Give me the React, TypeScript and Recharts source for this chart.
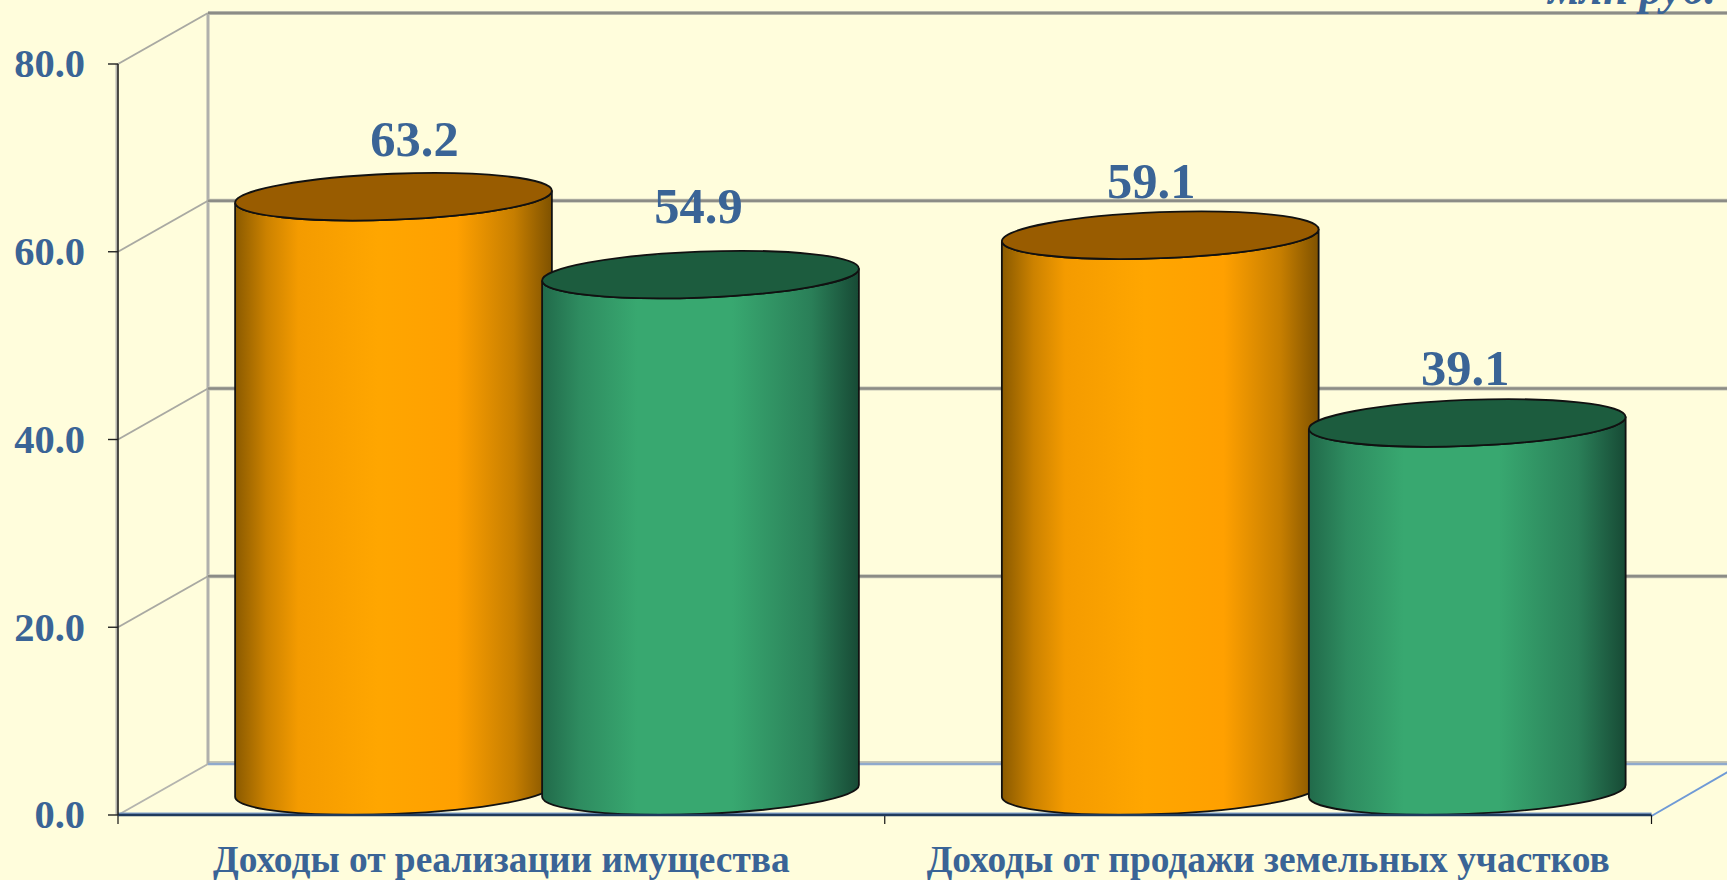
import { BarChart, Bar, XAxis, YAxis, CartesianGrid, LabelList } from 'recharts'

// ─── Data ─────────────────────────────────────────────────────────────────────

const CATEGORIES = ['Доходы от реализации имущества', 'Доходы от продажи земельных участков']
const FIRST_SERIES = [63.2, 59.1]
const SECOND_SERIES = [54.9, 39.1]
const Y_TICKS = [0, 20, 40, 60, 80]

const chartData = CATEGORIES.map((name, i) => ({
  name,
  first: FIRST_SERIES[i],
  second: SECOND_SERIES[i],
}))

// ─── Style ────────────────────────────────────────────────────────────────────

const BG = '#FFFDDC'
const TEXT = '#3A6496'
const FONT = '"Liberation Serif", serif'

// 3D projection of the old office-style chart: the back wall sits up and to the right
const DEPTH_X = 90
const DEPTH_Y = 51
const BAR_DX = 46
const BAR_DY = -24
const ELLIPSE_RY = 23
const TILT_DEG = -2.2

// hand-read label offsets from the bar's flat position
const FIRST_LABEL_NUDGE = [{ dx: 67, dy: -83 }, { dx: 37, dy: -79 }]
const SECOND_LABEL_NUDGE = [{ dx: 44, dy: -94 }, { dx: 44, dy: -80 }]

// ─── Cylinder shape ───────────────────────────────────────────────────────────

function Cylinder({ x, y, width, height, gradient, topFill }: any) {
  const rx = width / 2
  const cx = x + rx + BAR_DX
  const topY = y + BAR_DY - 1
  const bottomY = y + height + BAR_DY
  const rad = (TILT_DEG * Math.PI) / 180
  const ex = rx * Math.cos(rad)
  const ey = rx * Math.sin(rad)
  const arc = `A ${rx} ${ELLIPSE_RY} ${TILT_DEG}`
  const body = [
    `M ${cx - ex} ${topY - ey}`,
    `L ${cx - ex} ${bottomY - ey}`,
    `${arc} 0 0 ${cx + ex} ${bottomY + ey}`,
    `L ${cx + ex} ${topY + ey}`,
    `${arc} 0 1 ${cx - ex} ${topY - ey}`,
    'Z',
  ].join(' ')
  return (
    <g>
      <path d={body} fill={`url(#${gradient})`} stroke="#111" strokeWidth={1.8} />
      <ellipse
        cx={cx}
        cy={topY}
        rx={rx}
        ry={ELLIPSE_RY}
        transform={`rotate(${TILT_DEG} ${cx} ${topY})`}
        fill={topFill}
        stroke="#111"
        strokeWidth={1.8}
      />
    </g>
  )
}

// ─── Walls, floor and grid, drawn per y tick ──────────────────────────────────

function WallLine(props: any) {
  const { x1, x2, y1, y, height } = props
  const isFloor = Math.abs(y1 - (y + height)) < 1
  const backX = x1 + DEPTH_X
  const backY = y1 - DEPTH_Y
  if (!isFloor) {
    return (
      <g key={`wall-${y1}`}>
        <polyline
          points={`${x1},${y1} ${backX},${backY}`}
          fill="none"
          stroke="#A9A9A2"
          strokeWidth={2}
        />
        <line x1={backX} y1={backY} x2={x2 + DEPTH_X} y2={backY} stroke="#C4C4B4" strokeWidth={4} />
        <line x1={backX} y1={backY} x2={x2 + DEPTH_X} y2={backY} stroke="#8C8C86" strokeWidth={2.5} />
      </g>
    )
  }
  const midX = (x1 + x2) / 2
  return (
    <g key="floor">
      <line x1={x1 - 1.5} y1={y} x2={x1 - 1.5} y2={y1} stroke="#B4B4AE" strokeWidth={2} />
      <line x1={backX} y1={y - DEPTH_Y} x2={backX} y2={backY} stroke="#B0B0AC" strokeWidth={3} />
      <line x1={x1} y1={y1} x2={backX} y2={backY} stroke="#B4B4AE" strokeWidth={2} />
      <line x1={backX} y1={backY - 2} x2={x2 + DEPTH_X} y2={backY - 2} stroke="#B0B0A4" strokeWidth={1.5} />
      <line x1={backX} y1={backY} x2={x2 + DEPTH_X} y2={backY} stroke="#8FA9CC" strokeWidth={2.5} />
      <line x1={x2} y1={y1 + 1} x2={x2 + DEPTH_X} y2={backY} stroke="#6F9AD6" strokeWidth={2} />
      <line x1={x1} y1={y1 - 1.5} x2={x2} y2={y1 - 1.5} stroke="#7F9FC8" strokeWidth={2} />
      {[x1, midX, x2].map(tx => (
        <line key={tx} x1={tx} y1={y1} x2={tx} y2={y1 + 9} stroke="#111" strokeWidth={1.2} />
      ))}
    </g>
  )
}

// ─── Value label ──────────────────────────────────────────────────────────────

function valueLabel(nudges: { dx: number; dy: number }[]) {
  return function ValueLabel({ x, y, width, value, index }: any) {
    const n = nudges[index]
    return (
      <text
        x={x + width / 2 + n.dx}
        y={y + n.dy}
        textAnchor="middle"
        dominantBaseline="central"
        fontFamily={FONT}
        fontWeight="bold"
        fontSize={50.5}
        fill={TEXT}
      >
        {Number(value).toFixed(1)}
      </text>
    )
  }
}

// ─── Component ────────────────────────────────────────────────────────────────

export default function App() {
  return (
    <div style={{ position: 'fixed', left: 0, top: 0, width: 1727, height: 880, background: BG, overflow: 'hidden' }}>
      <BarChart
        width={1727}
        height={880}
        data={chartData}
        margin={{ top: 64, right: 75.5, bottom: 35, left: 0 }}
        barSize={317}
        barGap={-10}
      >
        <defs>
          <linearGradient id="orangeBody" x1="0" y1="0" x2="1" y2="0">
            <stop offset="0%" stopColor="#8A5A00" />
            <stop offset="10%" stopColor="#CC8200" />
            <stop offset="20%" stopColor="#F49B00" />
            <stop offset="45%" stopColor="#FFA600" />
            <stop offset="70%" stopColor="#FFA000" />
            <stop offset="88%" stopColor="#C67E00" />
            <stop offset="100%" stopColor="#7F5200" />
          </linearGradient>
          <linearGradient id="greenBody" x1="0" y1="0" x2="1" y2="0">
            <stop offset="0%" stopColor="#216A4A" />
            <stop offset="12%" stopColor="#2E8C60" />
            <stop offset="30%" stopColor="#38A870" />
            <stop offset="60%" stopColor="#38A870" />
            <stop offset="85%" stopColor="#2A7F58" />
            <stop offset="100%" stopColor="#174A35" />
          </linearGradient>
        </defs>
        <text
          x={1716}
          y={4}
          textAnchor="end"
          fontFamily={FONT}
          fontStyle="italic"
          fontWeight="bold"
          fontSize={45.5}
          fill={TEXT}
        >
          млн руб.
        </text>
        <CartesianGrid
          vertical={false}
          horizontal={WallLine as any}
          horizontalValues={Y_TICKS}
        />
        <XAxis
          dataKey="name"
          interval={0}
          tickSize={0}
          tickMargin={30}
          axisLine={{ stroke: '#1F3A5C', strokeWidth: 2.5 }}
          tick={{ fontFamily: FONT, fontWeight: 'bold', fontSize: 37.4, fill: TEXT }}
        />
        <YAxis
          width={118}
          domain={[0, 80]}
          ticks={Y_TICKS}
          interval={0}
          tickSize={10}
          tickMargin={23}
          tickFormatter={(v: number) => v.toFixed(1)}
          axisLine={{ stroke: '#222', strokeWidth: 1.6 }}
          tickLine={{ stroke: '#222', strokeWidth: 1.4 }}
          tick={{ fontFamily: FONT, fontWeight: 'bold', fontSize: 40.5, fill: TEXT, dy: -1 }}
        />
        <Bar
          dataKey="first"
          isAnimationActive={false}
          shape={(p: any) => <Cylinder {...p} gradient="orangeBody" topFill="#995C00" />}
        >
          <LabelList dataKey="first" content={valueLabel(FIRST_LABEL_NUDGE) as any} />
        </Bar>
        <Bar
          dataKey="second"
          isAnimationActive={false}
          shape={(p: any) => <Cylinder {...p} gradient="greenBody" topFill="#1C5C3E" />}
        >
          <LabelList dataKey="second" content={valueLabel(SECOND_LABEL_NUDGE) as any} />
        </Bar>
      </BarChart>
    </div>
  )
}
